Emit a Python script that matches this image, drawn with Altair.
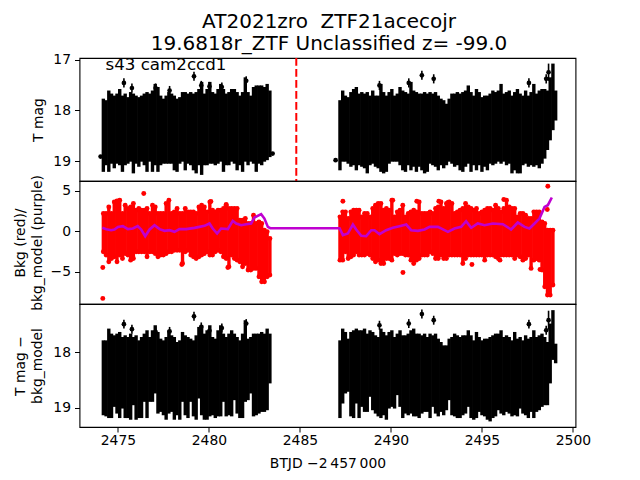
import altair as alt
import pandas as pd

t_left = [2474.2,2474.35,2474.5,2474.65,2474.8,2474.95,2475.1,2475.25,2475.4,2475.55,2475.7,2475.85,2476.0,2476.15,2476.3,2476.45,2476.6,2476.75,2476.9,2477.05,2477.2,2477.35,2477.5,2477.65,2477.8,2477.95,2478.1,2478.25,2478.4,2478.55,2478.7,2478.85,2479.0,2479.15,2479.3,2479.45,2479.6,2479.75,2479.9,2480.05,2480.2,2480.35,2480.5,2480.65,2480.8,2480.95,2481.1,2481.25,2481.4,2481.55,2481.7,2481.85,2482.0,2482.15,2482.3,2482.45,2482.6,2482.75,2482.9,2483.05,2483.2,2483.35]
t_right = [2487.2,2487.35,2487.5,2487.65,2487.8,2487.95,2488.1,2488.25,2488.4,2488.55,2488.7,2488.85,2489.0,2489.15,2489.3,2489.45,2489.6,2489.75,2489.9,2490.05,2490.2,2490.35,2490.5,2490.65,2490.8,2490.95,2491.1,2491.25,2491.4,2491.55,2491.7,2491.85,2492.0,2492.15,2492.3,2492.45,2492.6,2492.75,2492.9,2493.05,2493.2,2493.35,2493.5,2493.65,2493.8,2493.95,2494.1,2494.25,2494.4,2494.55,2494.7,2494.85,2495.0,2495.15,2495.3,2495.45,2495.6,2495.75,2495.9,2496.05,2496.2,2496.35,2496.5,2496.65,2496.8,2496.95,2497.1,2497.25,2497.4,2497.55,2497.7,2497.85,2498.0,2498.15,2498.3,2498.45,2498.6,2498.75,2498.9,2499.05]

# top panel: band of T mag error bars
top_hi_left = [17.77,17.80,17.61,17.67,17.71,17.67,17.58,17.71,17.67,17.74,17.64,17.67,17.71,17.74,17.71,17.67,17.64,17.67,17.61,17.48,17.54,17.71,17.77,17.71,17.64,17.67,17.71,17.77,17.74,17.64,17.64,17.67,17.64,17.67,17.64,17.58,17.44,17.67,17.58,17.44,17.64,17.67,17.58,17.48,17.58,17.67,17.64,17.58,17.58,17.64,17.71,17.64,17.35,17.64,17.71,17.54,17.51,17.51,17.51,17.54,17.48,17.61]
top_lo_left = [19.21,19.08,19.21,19.05,19.14,19.05,19.08,19.21,19.08,19.05,19.01,19.24,19.05,19.11,19.01,19.08,19.21,19.01,19.21,19.08,19.21,19.08,19.05,19.05,19.05,19.05,19.18,19.21,19.05,19.01,19.18,19.05,19.08,19.18,19.24,19.08,19.27,19.08,19.08,19.05,19.05,19.08,19.05,19.01,19.21,19.08,19.08,19.01,19.05,19.18,19.08,19.21,19.01,19.08,19.01,19.05,19.21,19.05,19.08,19.01,18.98,18.92]
top_hi_right = [17.80,17.61,17.71,17.74,17.64,17.58,17.54,17.67,17.64,17.67,17.64,17.71,17.61,17.71,17.71,17.48,17.64,17.71,17.64,17.58,17.71,17.67,17.54,17.61,17.64,17.67,17.44,17.61,17.64,17.67,17.67,17.64,17.67,17.64,17.67,17.64,17.71,17.77,17.80,17.87,17.77,17.67,17.67,17.64,17.67,17.64,17.61,17.51,17.64,17.71,17.58,17.64,17.74,17.71,17.71,17.67,17.61,17.64,17.61,17.48,17.67,17.64,17.61,17.71,17.64,17.58,17.67,17.71,17.61,17.71,17.64,17.48,17.67,17.61,17.58,17.58,17.61,17.35,17.08,17.61]
top_lo_right = [19.18,19.01,19.01,19.05,19.11,19.08,19.18,19.08,19.11,19.14,19.24,19.08,19.05,19.11,19.14,19.21,19.24,19.21,19.05,19.01,19.01,19.01,19.08,19.18,19.21,19.08,19.18,19.11,19.21,19.11,19.18,19.24,19.21,19.05,19.08,19.11,19.18,19.08,19.14,19.08,19.01,19.05,19.11,19.08,19.18,19.21,19.11,19.05,19.21,19.08,19.18,19.08,19.21,19.11,19.18,19.05,19.08,19.05,19.01,19.05,19.01,19.08,19.05,19.24,19.18,19.24,19.24,19.08,19.05,19.11,19.08,19.11,19.08,19.14,19.05,18.95,18.78,18.59,18.39,18.2]

# middle panel: spread of the red background points
mid_hi_left = [2.18,2.18,3.0,2.18,3.62,3.75,3.83,2.18,3.21,2.8,3.0,3.42,2.59,2.8,2.59,2.59,2.8,2.18,3.21,3.0,2.18,2.18,2.18,3.42,3.83,2.18,2.39,2.8,2.18,2.18,2.8,2.39,2.39,2.39,2.18,3.0,3.21,3.0,2.39,3.62,2.59,2.39,2.59,2.59,2.8,3.21,2.8,2.8,2.8,2.8,1.36,1.36,1.56,0.95,0.95,1.97,0.95,1.15,0.95,0.12,-0.08,-0.91]
mid_lo_left = [-2.55,-2.96,-3.79,-3.37,-3.17,-3.79,-2.96,-3.37,-2.76,-2.96,-3.58,-3.37,-2.55,-2.55,-2.55,-2.55,-3.17,-2.55,-2.55,-2.76,-3.17,-2.96,-2.96,-2.76,-2.55,-2.55,-2.35,-2.35,-2.35,-3.99,-2.55,-2.35,-2.96,-3.17,-3.37,-3.17,-2.96,-2.76,-2.55,-2.96,-2.96,-2.55,-2.35,-2.55,-3.17,-3.37,-4.4,-2.96,-3.37,-3.58,-3.79,-4.4,-3.99,-4.81,-4.81,-4.6,-4.6,-5.64,-6.26,-6.26,-5.64,-5.43]
mid_hi_right = [1.77,2.39,2.39,1.56,2.39,2.59,2.59,2.59,1.77,2.18,2.18,1.77,2.8,3.21,3.42,3.42,2.59,2.8,2.59,3.83,1.77,2.39,2.59,3.21,1.77,2.18,2.39,2.59,2.39,3.62,2.18,2.18,2.18,2.39,2.18,2.8,3.0,3.62,2.8,3.42,3.62,3.42,2.18,2.39,2.59,2.8,3.42,3.0,2.8,2.59,2.8,2.18,2.39,2.59,2.8,2.8,2.59,3.21,2.8,2.39,2.8,3.83,3.0,2.8,2.8,1.77,2.18,2.18,1.97,1.56,1.56,2.39,2.39,2.39,1.15,0.95,0.12,0.12,0.12]
mid_lo_right = [-3.58,-3.58,-2.55,-3.37,-3.17,-2.96,-2.55,-2.96,-2.96,-2.96,-2.76,-2.96,-3.37,-3.79,-3.58,-3.99,-3.99,-3.37,-3.37,-3.58,-2.76,-2.96,-2.76,-2.76,-2.96,-2.96,-3.58,-3.99,-3.58,-3.37,-2.96,-2.96,-2.96,-2.55,-2.76,-3.37,-3.37,-2.96,-3.37,-3.37,-2.96,-2.96,-2.96,-2.96,-2.96,-3.99,-3.37,-2.96,-2.96,-2.96,-2.96,-2.96,-2.96,-3.58,-2.96,-2.96,-2.96,-3.17,-3.37,-2.96,-2.96,-2.96,-2.96,-2.96,-3.37,-2.96,-3.17,-3.58,-3.37,-2.96,-4.6,-3.58,-3.37,-3.58,-4.81,-6.87,-7.9,-7.9,-6.66]

# bottom panel: band of T mag minus bkg_model error bars
bot_hi_left = [17.79,17.79,17.58,17.67,17.70,17.67,17.64,17.73,17.70,17.73,17.67,17.73,17.70,17.79,17.73,17.67,17.61,17.73,17.61,17.52,17.64,17.76,17.79,17.73,17.61,17.70,17.73,17.82,17.79,17.64,17.70,17.73,17.76,17.79,17.70,17.55,17.52,17.67,17.61,17.52,17.73,17.76,17.61,17.52,17.67,17.73,17.67,17.61,17.67,17.73,17.79,17.67,17.43,17.76,17.73,17.67,17.67,17.67,17.64,17.67,17.58,17.67]
bot_lo_left = [19.13,19.15,19.18,19.18,18.98,19.10,19.18,19.01,19.18,19.18,19.21,18.95,19.21,19.18,19.18,18.89,19.18,18.89,18.89,18.74,19.10,19.07,19.13,19.21,19.10,19.07,19.21,19.13,19.21,18.89,19.13,19.18,18.89,19.15,19.21,18.83,19.13,19.21,19.21,19.15,19.13,19.18,19.15,19.15,18.89,19.15,19.13,19.15,18.86,19.10,19.18,19.18,18.89,18.86,18.74,19.15,19.13,19.10,19.07,19.07,19.04,18.56]
bot_hi_right = [17.79,17.58,17.64,17.76,17.64,17.61,17.58,17.61,17.61,17.58,17.67,17.61,17.64,17.70,17.73,17.58,17.64,17.70,17.64,17.61,17.73,17.67,17.61,17.70,17.70,17.67,17.61,17.58,17.67,17.67,17.70,17.67,17.73,17.67,17.70,17.67,17.76,17.82,17.88,17.88,17.76,17.73,17.67,17.70,17.73,17.70,17.70,17.61,17.70,17.79,17.64,17.73,17.79,17.76,17.76,17.73,17.70,17.67,17.67,17.61,17.73,17.70,17.73,17.79,17.64,17.76,17.73,17.79,17.70,17.76,17.73,17.61,17.73,17.70,17.67,17.73,17.82,17.49,17.25,17.85]
bot_lo_right = [19.18,18.92,18.74,18.71,19.15,19.18,18.92,19.18,18.98,19.07,19.07,18.80,19.04,19.10,19.15,19.18,19.13,19.21,19.01,18.98,19.01,18.77,18.98,19.18,19.10,19.13,19.10,19.15,19.15,19.18,19.10,19.07,19.07,19.18,18.98,19.10,19.15,19.07,19.13,19.04,18.86,19.13,19.15,19.18,19.18,19.13,19.10,18.98,19.18,19.21,19.18,19.07,19.13,19.15,19.21,19.24,19.18,19.15,19.04,19.10,19.13,19.07,19.10,19.15,19.13,19.15,19.01,19.10,19.13,19.18,19.07,19.18,19.07,19.04,18.98,18.95,18.95,18.56,18.14,18.20]

# isolated points with error bars
top_pts_t = [2474.05,2475.33,2475.77,2477.07,2477.84,2479.18,2479.58,2480.03,2480.71,2482.05,2483.5,2486.96,2489.37,2490.98,2491.7,2492.35,2497.58,2498.53,2498.66]
top_pts_m = [18.91,17.46,17.56,17.56,17.61,17.33,17.51,17.53,17.54,17.42,18.85,18.98,17.51,17.46,17.31,17.38,17.46,17.38,17.25]
top_pts_e = [0.03,0.09,0.09,0.09,0.09,0.09,0.09,0.09,0.09,0.09,0.03,0.03,0.09,0.09,0.09,0.09,0.09,0.09,0.17]
bot_pts_t = [2475.33,2475.77,2477.07,2477.84,2479.18,2479.58,2480.03,2480.71,2482.05,2489.37,2490.98,2491.7,2492.35,2497.58,2498.53,2498.66,2498.79]
bot_pts_m = [17.50,17.59,17.64,17.63,17.36,17.55,17.62,17.57,17.49,17.52,17.49,17.32,17.43,17.50,17.61,17.43,17.93]
bot_pts_e = [0.08,0.08,0.08,0.08,0.08,0.08,0.08,0.08,0.08,0.08,0.08,0.08,0.08,0.08,0.08,0.17,0.17]
red_pts_t = [2474.17,2476.42,2474.17,2478.51,2481.04,2480.11,2480.95,2487.36,2498.62,2490.66,2494.45,2498.19,2495.99,2498.59,2496.2,2491.42,2490.1,2492.63,2493.13]
red_pts_v = [-8.31,4.65,-4.49,-4.12,-4.49,3.66,3.29,3.70,5.56,-5.1,-4.12,-4.73,-3.58,2.67,3.91,3.70,3.83,3.70,3.54]

# purple model line
model_t = [2474.14,2474.36,2474.63,2474.81,2475.0,2475.27,2475.55,2475.82,2476.09,2476.28,2476.5,2476.74,2477.01,2477.29,2477.56,2477.84,2478.11,2478.38,2478.75,2479.21,2479.48,2479.76,2480.03,2480.21,2480.45,2480.67,2481.04,2481.31,2481.5,2481.77,2482.05,2482.32,2482.5,2482.87,2483.05,2483.24,2483.37,2487.18,2487.36,2487.63,2487.91,2488.09,2488.37,2488.64,2488.92,2489.1,2489.37,2489.74,2490.1,2490.47,2490.84,2491.11,2491.48,2491.85,2492.12,2492.58,2493.13,2493.49,2493.86,2494.13,2494.41,2494.77,2495.14,2495.6,2496.15,2496.6,2496.97,2497.34,2497.61,2497.89,2498.16,2498.44,2498.62,2498.84]
model_v = [0.41,0.25,0.12,0.21,0.53,0.62,0.25,0.33,0.62,0.21,-0.62,0.21,0.74,0.25,0.04,0.12,-0.08,0.25,0.25,0.41,0.53,0.66,0.95,0.33,-0.29,0.33,0.25,1.28,0.95,0.74,0.86,0.95,1.69,2.1,1.56,0.53,0.37,0.37,-0.49,-0.29,0.82,0.21,-0.58,-0.62,0.12,0.12,-0.37,0.12,0.41,0.62,0.82,0.12,0.04,0.21,0.53,0.53,-0.08,0.33,0.53,1.23,0.41,0.95,0.74,0.95,0.86,0.21,1.07,0.53,0.33,0.95,1.56,3.0,3.21,4.16]

x_ticks = [2475,2480,2485,2490,2495,2500]
title_lines = ["AT2021zro \u00a0ZTF21acecojr\u00a0", "19.6818r_ZTF Unclassified z= -99.0"]
label_text = ["s43 cam2ccd1"]
line_t = [2484.8]

FONT = "DejaVu Sans"
XDOM = [2472.89, 2500.14]


def band(t1, hi1, lo1, t2, hi2, lo2):
    rows = [dict(t=a, hi=b, lo=c) for a, b, c in zip(t1, hi1, lo1)]
    rows += [dict(t=a, hi=b, lo=c) for a, b, c in zip(t2, hi2, lo2)]
    return pd.DataFrame(rows)


def pts(t, m, e):
    return pd.DataFrame([dict(t=a, m=b, lo=b - c, hi=b + c) for a, b, c in zip(t, m, e)])


def xenc(show=False):
    if show:
        ax = alt.Axis(values=x_ticks, format="d", title="BTJD \u22122\u2009457\u2009000", grid=False,
                      tickColor="black", tickSize=5, domain=False, labelColor="black",
                      labelFontSize=13.9, titleFontSize=13.9, titleFontWeight="normal",
                      titleColor="black", labelFont=FONT, titleFont=FONT, labelPadding=1.5, titlePadding=9)
    else:
        ax = None
    return alt.X("t:Q", scale=alt.Scale(domain=XDOM, nice=False, zero=False), axis=ax)


def yaxis(vals, title, tx):
    return alt.Axis(values=vals, title=title, titleX=tx, grid=False, tickColor="black", tickSize=5,
                    domain=False, labelColor="black", labelFontSize=13.9, titleFontSize=13.9,
                    titleFontWeight="normal", titleColor="black", labelFont=FONT, titleFont=FONT,
                    labelPadding=4, format="d", titleLineHeight=17)


def band_panel(df, pt, ydom, vals, title, tx, show_x=False, extra=None):
    sc = alt.Scale(domain=ydom, nice=False, zero=False)
    rules = alt.Chart(df).mark_rule(color="black", strokeWidth=3.4).encode(
        x=xenc(show_x), y=alt.Y("hi:Q", scale=sc, axis=yaxis(vals, title, tx)), y2="lo:Q")
    er = alt.Chart(pt).mark_rule(color="black", strokeWidth=1.6).encode(
        x=xenc(show_x), y=alt.Y("hi:Q", scale=sc), y2="lo:Q")
    ci = alt.Chart(pt).mark_circle(color="black", size=22, opacity=1).encode(
        x=xenc(show_x), y=alt.Y("m:Q", scale=sc))
    layers = [rules, er, ci] + (extra or [])
    return alt.layer(*layers).properties(width=496, height=123)


# top
top_df = band(t_left, top_hi_left, top_lo_left, t_right, top_hi_right, top_lo_right)
top_pt = pts(top_pts_t, top_pts_m, top_pts_e)
TOPDOM = [19.39, 16.97]
dash = alt.Chart(pd.DataFrame({"t": line_t})).mark_rule(color="#ff0000", strokeWidth=2, strokeDash=[7.7, 3.3]).encode(
    x=xenc(False))
lab = alt.Chart(pd.DataFrame({"t": [2474.32], "m": [17.2], "s": label_text})).mark_text(
    align="left", baseline="alphabetic", fontSize=16.67, font=FONT, color="black").encode(
    x=xenc(False), y=alt.Y("m:Q", scale=alt.Scale(domain=TOPDOM, nice=False, zero=False)), text="s:N")
top = band_panel(top_df, top_pt, TOPDOM, [17, 18, 19], "T mag", -34.5, extra=[dash, lab])

# middle
mid_df = band(t_left, mid_hi_left, mid_lo_left, t_right, mid_hi_right, mid_lo_right)
MIDDOM = [-9.0, 6.2]
msc = alt.Scale(domain=MIDDOM, nice=False, zero=False)
m_rule = alt.Chart(mid_df).mark_rule(color="#ff0000", strokeWidth=3.4).encode(
    x=xenc(), y=alt.Y("hi:Q", scale=msc, axis=yaxis([-5, 0, 5], ["Bkg (red)/", "bkg_model (purple)"], -52)), y2="lo:Q")
m_hi = alt.Chart(mid_df).mark_circle(color="#ff0000", size=24, opacity=1).encode(x=xenc(), y=alt.Y("hi:Q", scale=msc))
m_lo = alt.Chart(mid_df).mark_circle(color="#ff0000", size=24, opacity=1).encode(x=xenc(), y=alt.Y("lo:Q", scale=msc))
m_pts = alt.Chart(pd.DataFrame({"t": red_pts_t, "v": red_pts_v})).mark_circle(color="#ff0000", size=24, opacity=1).encode(
    x=xenc(), y=alt.Y("v:Q", scale=msc))
m_line = alt.Chart(pd.DataFrame({"t": model_t, "v": model_v})).mark_line(color="#bf00d0", strokeWidth=2.6).encode(
    x=xenc(), y=alt.Y("v:Q", scale=msc))
mid = alt.layer(m_rule, m_hi, m_lo, m_pts, m_line).properties(width=496, height=123)

# bottom
bot_df = band(t_left, bot_hi_left, bot_lo_left, t_right, bot_hi_right, bot_lo_right)
bot_pt = pts(bot_pts_t, bot_pts_m, bot_pts_e)
bot = band_panel(bot_df, bot_pt, [19.34, 17.14], [18, 19], ["T mag \u2212", "bkg_model"], -52, show_x=True)

chart = alt.vconcat(top, mid, bot, spacing=0, bounds="flush").properties(
    title=alt.TitleParams(text=title_lines, font=FONT, fontSize=20, fontWeight="normal", color="black",
                          anchor="middle", lineHeight=22, offset=-2, dx=27),
    padding={"left": 4.5, "top": 3, "right": 0, "bottom": 0},
    background="white",
).configure_view(stroke="black", strokeWidth=1.1)

chart.save("out.html", embed_options={"renderer": "svg", "actions": False})
